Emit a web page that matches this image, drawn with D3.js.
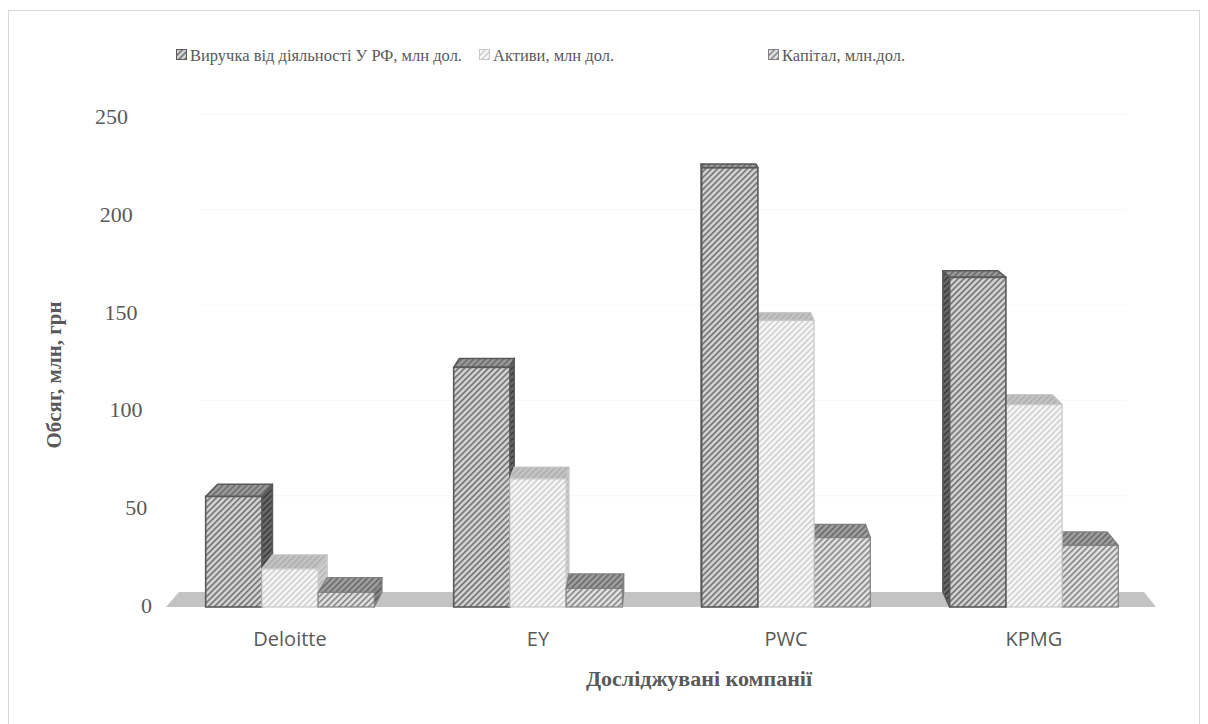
<!DOCTYPE html>
<html>
<head>
<meta charset="utf-8">
<script src="https://cdn.jsdelivr.net/npm/d3@7"></script>
<style>
  html, body { margin: 0; padding: 0; background: #fff; }
  svg { display: block; }
  .serif { font-family: "Liberation Serif", "Times New Roman", Times, serif; }
</style>
</head>
<body>
<svg id="chart" width="1208" height="724"></svg>
<script>
// ---- data ----
const companies = ["Deloitte", "EY", "PWC", "KPMG"];
const seriesNames = ["Виручка від діяльності У РФ, млн дол.", "Активи, млн дол.", "Капітал, млн.дол."];
const revenue = [56, 122, 224, 168];
const assets = [19, 65, 146, 103];
const capital = [7, 9, 35, 31];
const yTicks = [0, 50, 100, 150, 200, 250];
const yTitle = "Обсяг, млн, грн";
const xTitle = "Досліджувані компанії";

const seriesValues = [revenue, assets, capital];

const svg = d3.select("#chart");

// outer border
svg.append("rect").attr("x", 8.5).attr("y", 10.5).attr("width", 1191).attr("height", 760)
  .attr("fill", "none").attr("stroke", "#d9d9d9").attr("stroke-width", 1);

// scales
const x0 = d3.scaleBand().domain(companies).range([166, 1158]).paddingInner(0.32).paddingOuter(0.16);
const x1 = d3.scaleBand().domain(d3.range(3)).range([0, x0.bandwidth()]).padding(0);
const y = d3.scaleLinear().domain([0, 250]).range([606, 117]);

// perspective
const V = { x: 680, y: 13 }, T = 0.0252;
const back = (p) => [p[0] + T * (V.x - p[0]), p[1] + T * (V.y - p[1])];

// patterns
const defs = svg.append("defs");
function stripe(id, bg, fg, w, sw) {
  const p = defs.append("pattern").attr("id", id).attr("patternUnits", "userSpaceOnUse")
    .attr("width", w).attr("height", w).attr("patternTransform", "rotate(45)");
  p.append("rect").attr("width", w).attr("height", w).attr("fill", bg);
  p.append("rect").attr("x", 0).attr("width", sw).attr("height", w).attr("fill", fg);
}
stripe("p0f", "#d4d4d4", "#7a7a7a", 4.2, 1.8);
stripe("p1f", "#f7f7f7", "#d2d2d2", 4.2, 1.8);
stripe("p2f", "#e2e2e2", "#8e8e8e", 4.2, 1.8);
stripe("p0t", "#9a9a9a", "#707070", 4.2, 1.8);
stripe("p1t", "#c4c4c4", "#b0b0b0", 4.2, 1.8);
stripe("p2t", "#a0a0a0", "#6e6e6e", 4.2, 1.8);
stripe("p0s", "#6a6a6a", "#3e3e3e", 4.2, 1.8);
stripe("p1s", "#cfcfcf", "#b8b8b8", 4.2, 1.8);
stripe("p2s", "#8a8a8a", "#5e5e5e", 4.2, 1.8);

const strokes = ["#595959", "#c8c8c8", "#808080"];

// back wall gridlines (very faint)
const gLeft = 166, gRight = 1158;
svg.append("g").selectAll("line").data(yTicks.slice(1)).join("line")
  .attr("x1", d => back([gLeft, y(d)])[0] + 20)
  .attr("x2", d => back([gRight, y(d)])[0] - 20)
  .attr("y1", d => back([gLeft, y(d)])[1])
  .attr("y2", d => back([gRight, y(d)])[1])
  .attr("stroke", "#f7f7f7").attr("stroke-width", 1);

// floor
const fl = [[166, 607], [1156, 607]];
const floorPts = [fl[0], fl[1], back(fl[1]), back(fl[0])];
svg.append("polygon").attr("points", floorPts.map(p => p.join(",")).join(" "))
  .attr("fill", "#c3c3c3");

// bars
const bars = [];
companies.forEach((c, ci) => {
  seriesValues.forEach((vals, si) => {
    const xl = x0(c) + x1(si), xr = xl + x1.bandwidth();
    bars.push({ ci, si, xl, xr, top: y(vals[ci]), bottom: y(0) + 1 });
  });
});
bars.sort((a, b) => Math.abs((b.xl + b.xr) / 2 - V.x) - Math.abs((a.xl + a.xr) / 2 - V.x));

const barG = svg.append("g");
const poly = (pts) => pts.map(p => p[0].toFixed(2) + "," + p[1].toFixed(2)).join(" ");
bars.forEach(b => {
  const g = barG.append("g");
  const FL = [b.xl, b.top], FR = [b.xr, b.top], BL = [b.xl, b.bottom], BR = [b.xr, b.bottom];
  const sw = b.si === 0 ? 1.6 : 1.2;
  if (b.xr < V.x) {
    g.append("polygon").attr("points", poly([FR, back(FR), back(BR), BR]))
      .attr("fill", `url(#p${b.si}s)`).attr("stroke", strokes[b.si]).attr("stroke-width", sw).attr("stroke-linejoin", "round");
  } else if (b.xl > V.x) {
    g.append("polygon").attr("points", poly([FL, back(FL), back(BL), BL]))
      .attr("fill", `url(#p${b.si}s)`).attr("stroke", strokes[b.si]).attr("stroke-width", sw).attr("stroke-linejoin", "round");
  }
  g.append("polygon").attr("points", poly([FL, FR, back(FR), back(FL)]))
    .attr("fill", `url(#p${b.si}t)`).attr("stroke", strokes[b.si]).attr("stroke-width", sw).attr("stroke-linejoin", "round");
  g.append("rect").attr("x", b.xl).attr("y", b.top).attr("width", b.xr - b.xl).attr("height", b.bottom - b.top)
    .attr("fill", `url(#p${b.si}f)`).attr("stroke", strokes[b.si]).attr("stroke-width", sw);
});

// y tick labels (axis leans with perspective)
svg.append("g").selectAll("text").data(yTicks).join("text")
  .attr("class", "serif")
  .attr("x", d => 152 - (606 - y(d)) * 24 / 489)
  .attr("y", d => y(d) + 7)
  .attr("text-anchor", "end")
  .attr("font-size", 22).attr("fill", "#595959")
  .text(d => d);

// x labels
svg.append("g").selectAll("text").data(companies).join("text")
  .attr("x", d => x0(d) + x0.bandwidth() / 2)
  .attr("y", 646)
  .attr("text-anchor", "middle")
  .style("font-family", "'Open Sans', sans-serif")
  .attr("font-size", 20).attr("fill", "#595959")
  .text(d => d);

// axis titles
svg.append("text").attr("class", "serif").attr("x", 699).attr("y", 686).attr("text-anchor", "middle")
  .attr("font-weight", "bold")
  .attr("font-size", 22).attr("fill", "#595959").text(xTitle);
svg.append("text").attr("class", "serif").attr("transform", "translate(61,375) rotate(-90)").attr("text-anchor", "middle")
  .attr("font-weight", "bold")
  .attr("font-size", 21).attr("fill", "#595959").text(yTitle);

// legend
const legX = [176, 479, 768];
const leg = svg.append("g").selectAll("g").data(seriesNames).join("g")
  .attr("transform", (d, i) => `translate(${legX[i]},49)`);
leg.append("rect").attr("x", 0.5).attr("y", 0.5).attr("width", 10).attr("height", 10)
  .attr("fill", (d, i) => `url(#p${i}f)`).attr("stroke", (d, i) => strokes[i]).attr("stroke-width", 1);
leg.append("text").attr("class", "serif").attr("x", 14).attr("y", 12)
  .attr("font-size", 16.5).attr("fill", "#595959")
  .text(d => d);
</script>
</body>
</html>
